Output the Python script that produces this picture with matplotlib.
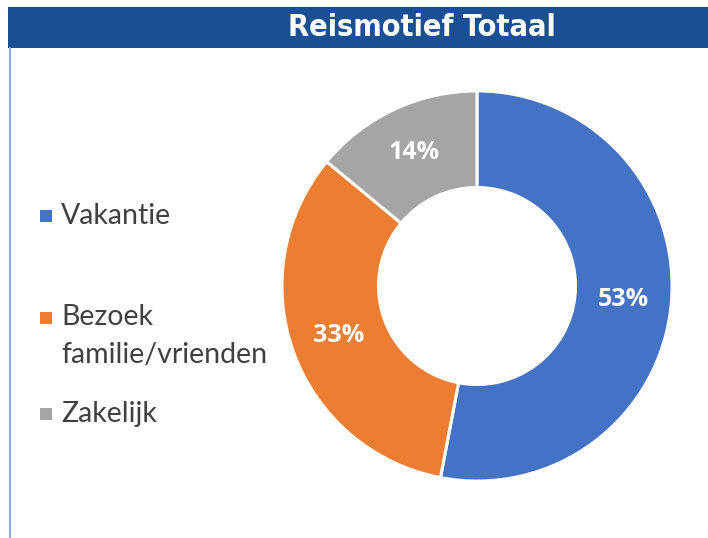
import matplotlib
matplotlib.use("Agg")
import matplotlib.pyplot as plt
from matplotlib.patches import Rectangle
from matplotlib.lines import Line2D

categories = ["Vakantie", "Bezoek\nfamilie/vrienden", "Zakelijk"]
values = [53, 33, 14]
colors = ["#4472C4", "#ED7D31", "#A5A5A5"]
title = "Reismotief Totaal"

W, H = 708, 538
fig = plt.figure(figsize=(W / 100, H / 100), dpi=100)
fig.patch.set_facecolor("white")

def fx(px):
    return px / W

def fy(py):
    return 1 - py / H

# title bar
fig.patches.append(Rectangle((fx(8), fy(48)), fx(700), 41 / H, transform=fig.transFigure,
                             facecolor="#1B4F93", edgecolor="none", zorder=0))
fig.text(fx(422), fy(27), title, ha="center", va="center", color="white",
         fontsize=22, fontweight="bold", fontstretch="condensed",
         family=["DejaVu Sans"])
# left border line
fig.lines.append(Line2D([fx(10), fx(10)], [fy(48), 0], transform=fig.transFigure,
                        color="#6F97D6", linewidth=1.2))

# donut
cx, cy, r = 477, 286, 197
ax = fig.add_axes([fx(cx - r), fy(cy + r), 2 * r / W, 2 * r / H])
wedges, texts, autotexts = ax.pie(
    values, colors=colors, startangle=90, counterclock=False, radius=1,
    wedgeprops=dict(width=0.495, edgecolor="white", linewidth=2.2),
    autopct=lambda p: f"{p:.0f}%", pctdistance=0.755,
    textprops=dict(color="white", fontsize=18, fontweight="bold", family="Open Sans"))
ax.set_xlim(-1.01, 1.01)
ax.set_ylim(-1.01, 1.01)
ax.set_aspect("equal")
ax.axis("off")

# legend
legend_y = [216, 318, 414]
for lab, col, y in zip(categories, colors, legend_y):
    fig.patches.append(Rectangle((fx(40), fy(y + 6)), 12 / W, 12 / H, transform=fig.transFigure,
                                 facecolor=col, edgecolor="none"))
    multi = "\n" in lab
    fig.text(fx(61), fy(y - 14) if multi else fy(y), lab, ha="left",
             va="top" if multi else "center",
             color="#404040", fontsize=20.5, family="Lato", linespacing=1.55)

fig.savefig("out.png", dpi=100)
